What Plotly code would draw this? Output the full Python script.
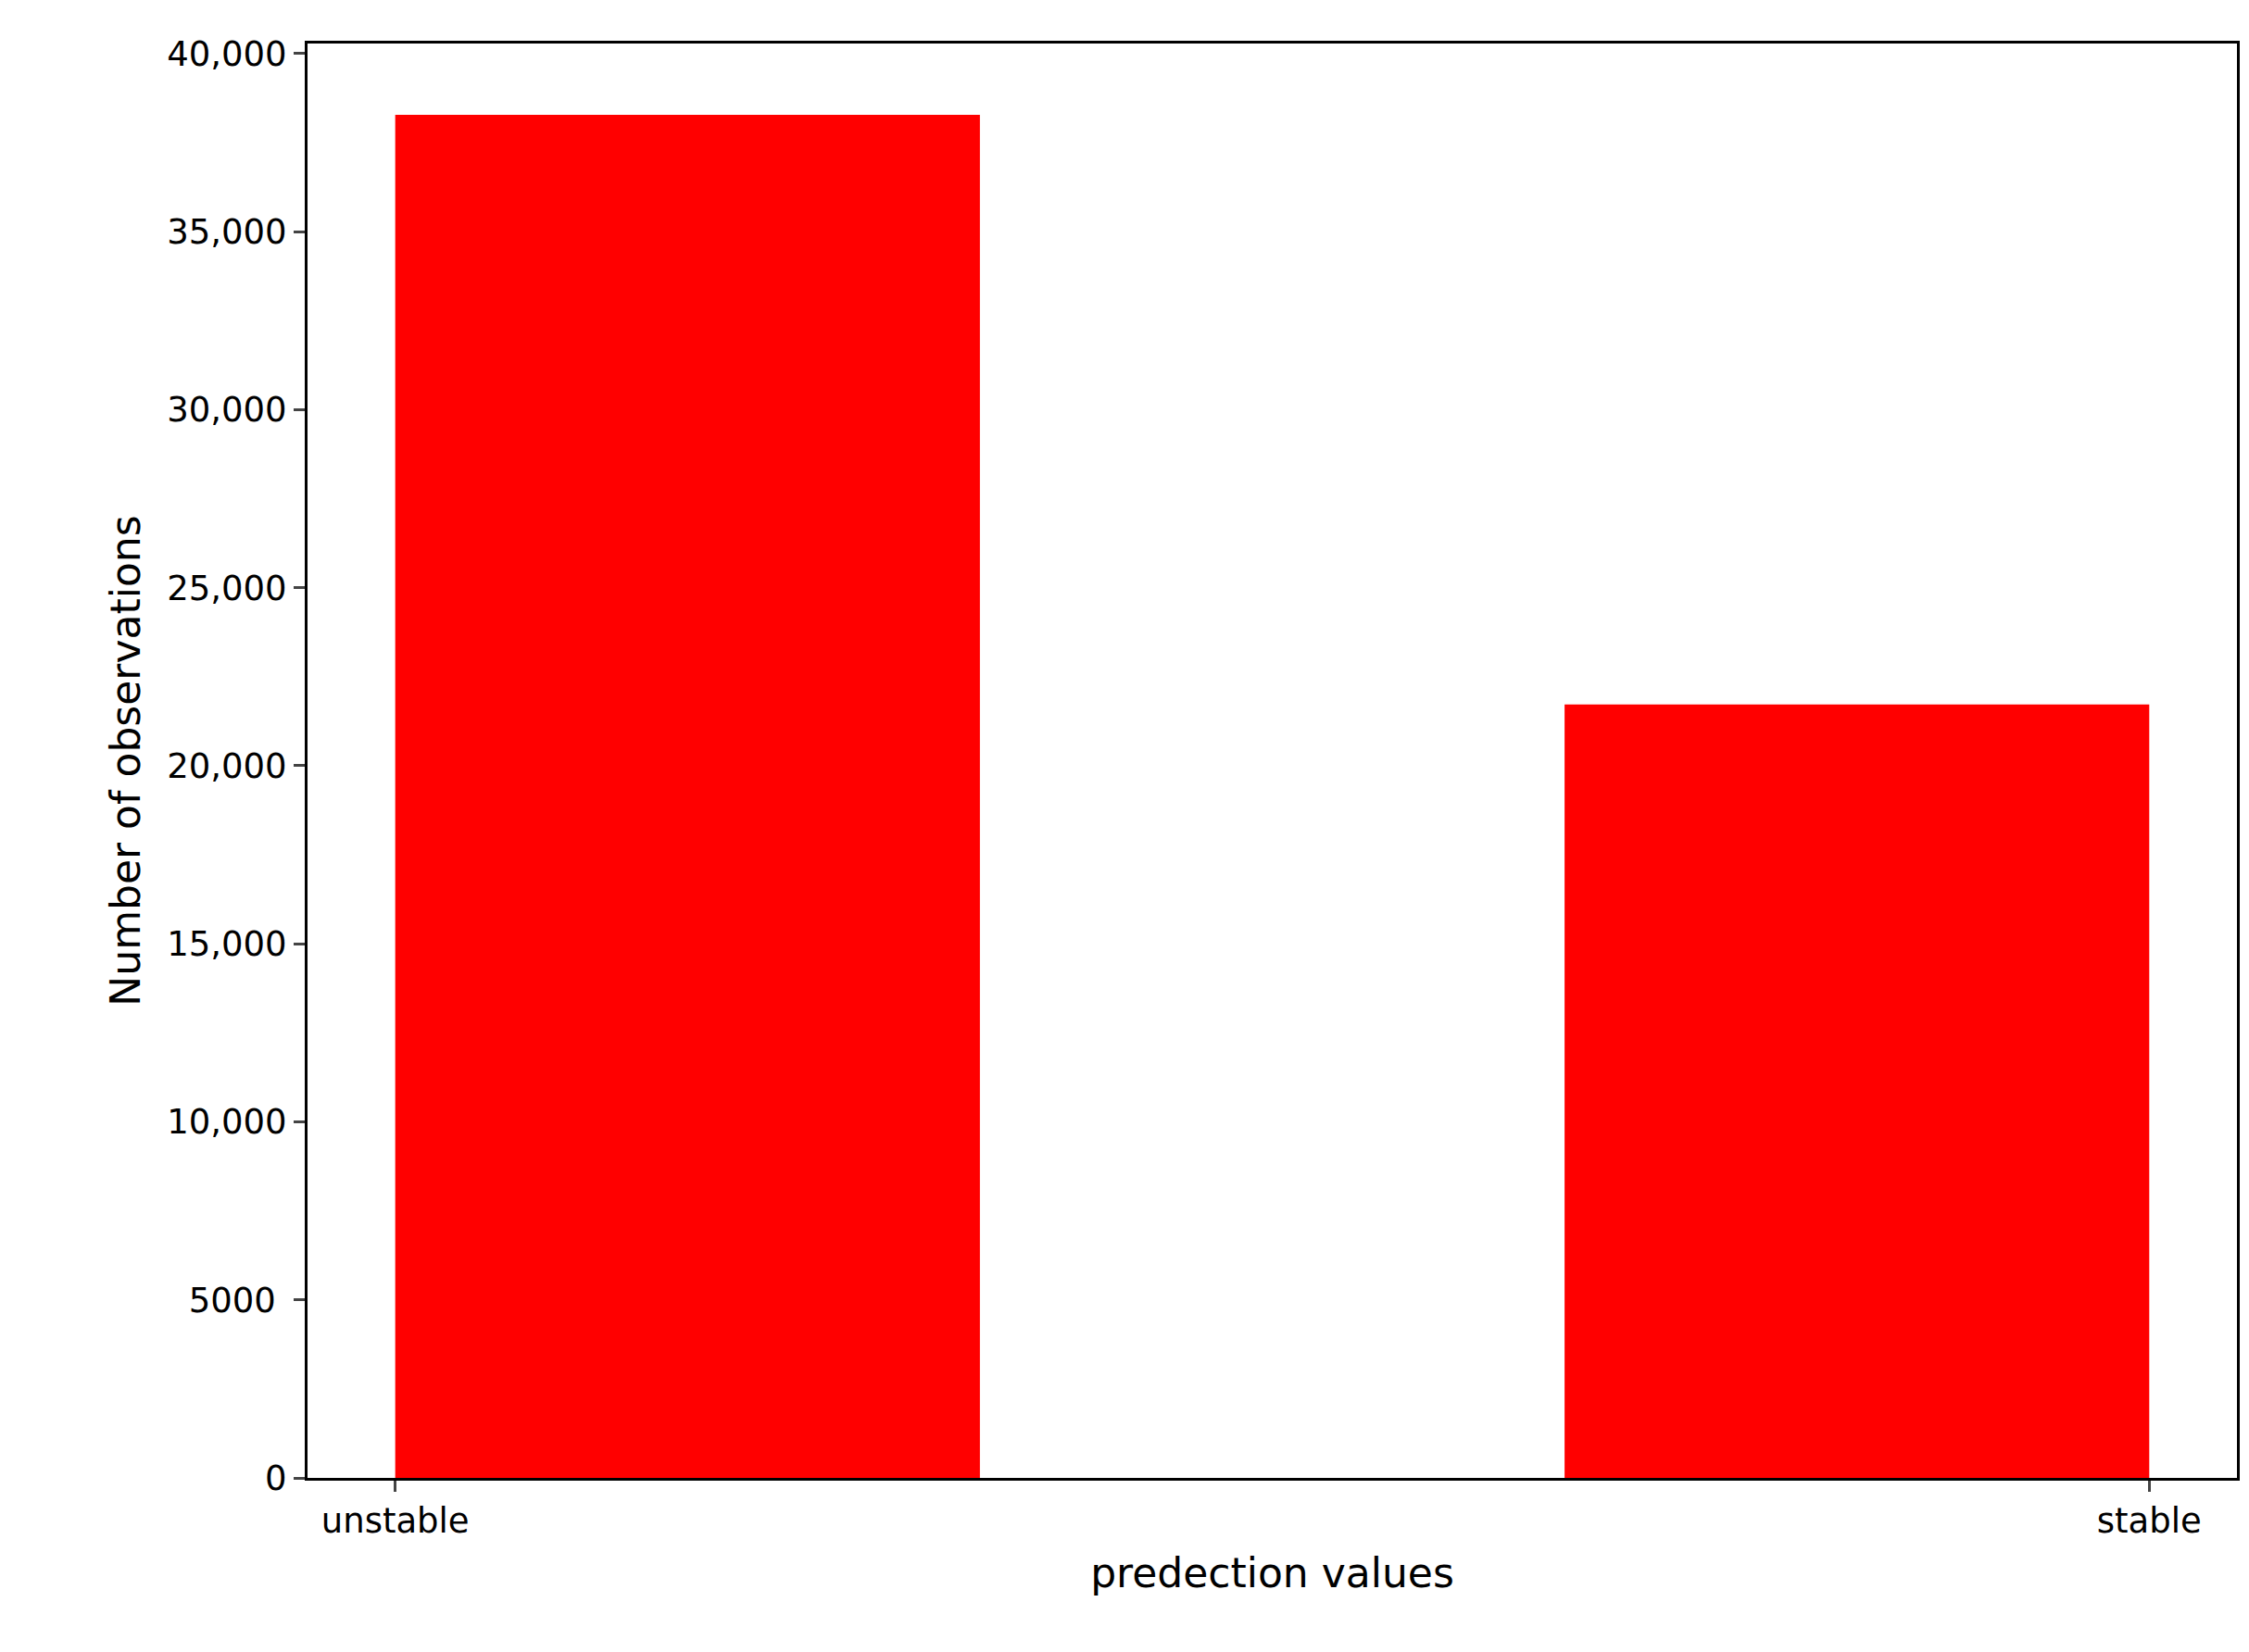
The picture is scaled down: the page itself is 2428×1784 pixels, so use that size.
import plotly.graph_objects as go

categories = ["unstable", "stable"]
counts = [38280, 21720]
bin_centers = [1/6, 5/6]
bin_width = 1/3
tick_positions = [0, 1]
ytick_vals = [0, 5000, 10000, 15000, 20000, 25000, 30000, 35000, 40000]
ytick_text = ["0", "5000 ", "10,000", "15,000", "20,000", "25,000", "30,000", "35,000", "40,000"]

fig = go.Figure(go.Bar(x=bin_centers, y=counts, width=[bin_width]*2,
                       marker=dict(color="#ff0000", line=dict(width=0))))
font = dict(family="DejaVu Sans", size=37, color="black")
fig.update_layout(
    width=2428, height=1784, paper_bgcolor="white", plot_bgcolor="white",
    margin=dict(l=324, r=21, t=39, b=196), font=font, showlegend=False,
    xaxis=dict(range=[-0.05, 1.05], tickvals=tick_positions, ticktext=categories,
               showline=True, linecolor="black", linewidth=3, mirror=True,
               ticks="outside", ticklen=12, tickwidth=3, showgrid=False, zeroline=False,
               title=dict(text="predection values", standoff=20)),
    yaxis=dict(range=[0, 40280], tickvals=ytick_vals, ticktext=ytick_text,
               showline=True, linecolor="black", linewidth=3, mirror=True,
               ticks="outside", ticklen=12, tickwidth=3, showgrid=False, zeroline=False,
               title=dict(text="Number of observations", standoff=15)),
)
fig.write_html("out.html")
